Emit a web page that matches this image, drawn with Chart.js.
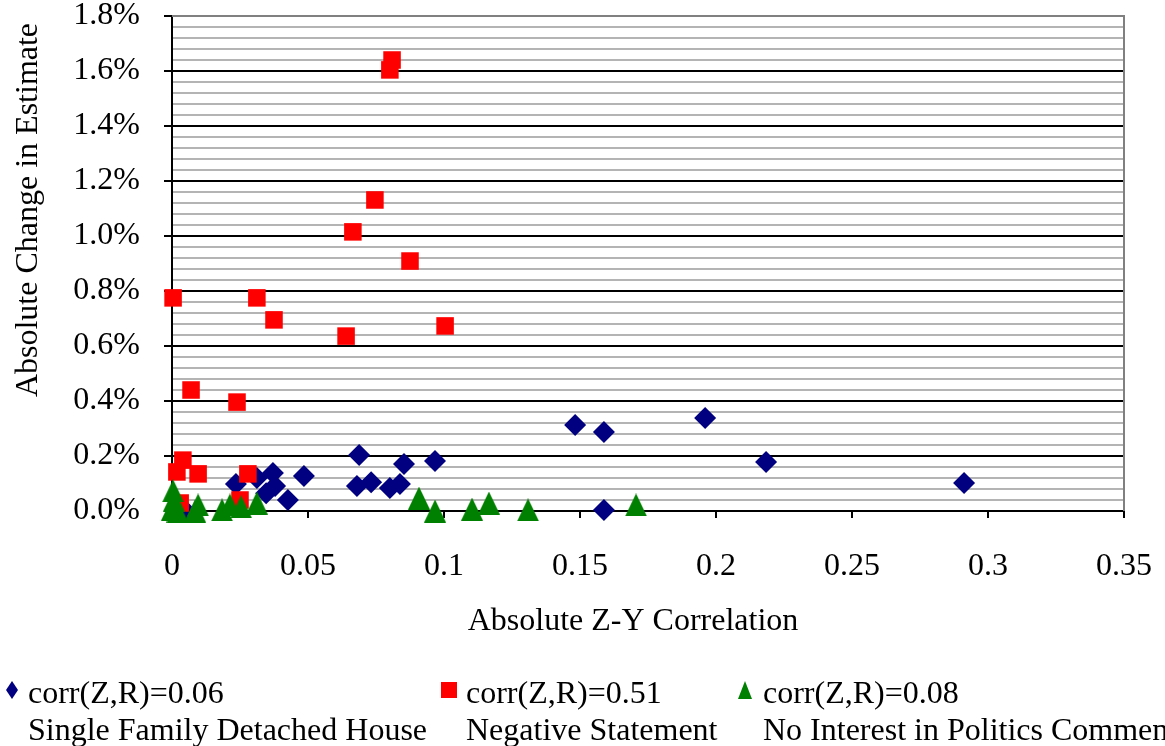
<!DOCTYPE html>
<html>
<head>
<meta charset="utf-8">
<script src="https://cdn.jsdelivr.net/npm/chart.js@4.4.0/dist/chart.umd.min.js"></script>
<style>
  html, body { margin: 0; padding: 0; background: #fff; }
  #wrap { width: 1165px; height: 746px; position: relative; }
</style>
</head>
<body>
<div id="wrap"><canvas id="chart"></canvas></div>
<script>
// series names and legend lines
const seriesNames = ['Single Family Detached House', 'Negative Statement', 'No Interest in Politics Comment'];
const corrLabels = ['corr(Z,R)=0.06', 'corr(Z,R)=0.51', 'corr(Z,R)=0.08'];

// x = absolute Z-Y correlation, y = absolute change in estimate (%)
const houseX = [0.005, 0.0235, 0.0312, 0.0346, 0.0371, 0.0379, 0.0426, 0.0485, 0.0688, 0.068, 0.0732, 0.0801, 0.0838, 0.0853, 0.0967, 0.1482, 0.1588, 0.1588, 0.196, 0.2184, 0.2912];
const houseY = [0.0, 0.098, 0.120, 0.065, 0.138, 0.091, 0.040, 0.127, 0.204, 0.091, 0.105, 0.084, 0.098, 0.171, 0.182, 0.313, 0.287, 0.004, 0.338, 0.178, 0.102];

const negX = [0.0809, 0.0801, 0.0746, 0.0665, 0.0875, 0.0004, 0.0312, 0.0375, 0.064, 0.1004, 0.007, 0.0239, 0.004, 0.0018, 0.0096, 0.0279, 0.003, 0.025];
const negY = [1.640, 1.604, 1.131, 1.015, 0.909, 0.775, 0.775, 0.695, 0.636, 0.673, 0.440, 0.396, 0.185, 0.142, 0.135, 0.135, 0.029, 0.040];

const polX = [0.0004, 0.0007, 0.0, 0.002, 0.0096, 0.0085, 0.0184, 0.0213, 0.0254, 0.0312, 0.0908, 0.0967, 0.1103, 0.1165, 0.1309, 0.1706];
const polY = [0.073, 0.040, 0.007, 0.0, 0.022, 0.0, 0.004, 0.022, 0.015, 0.029, 0.047, 0.0, 0.007, 0.029, 0.004, 0.022];

const xTicks = [0, 0.05, 0.1, 0.15, 0.2, 0.25, 0.3, 0.35];
const yMax = 1.8;

const colors = ['#000080', '#ff0000', '#008000'];
const FONT = "'Liberation Serif', 'Times New Roman', serif";

function toPoints(xs, ys) {
  return xs.map((x, i) => ({ x: x, y: ys[i] }));
}

// Excel-style triangle marker, centred on its box
function makeTriangle(w, h, color) {
  const c = document.createElement('canvas');
  c.width = w; c.height = h;
  const g = c.getContext('2d');
  g.fillStyle = color;
  g.beginPath();
  g.moveTo(w / 2, 0);
  g.lineTo(w, h);
  g.lineTo(0, h);
  g.closePath();
  g.fill();
  return c;
}
const triMarker = makeTriangle(22, 23, colors[2]);

const isMajor = v => Math.round(v * 25) % 5 === 0;

const extras = {
  id: 'extras',
  beforeDatasetsDraw(chart) {
    const { ctx, chartArea: a } = chart;
    ctx.save();
    ctx.strokeStyle = '#808080';
    ctx.lineWidth = 2;
    ctx.beginPath();
    ctx.moveTo(a.left, a.top);
    ctx.lineTo(a.right, a.top);
    ctx.lineTo(a.right, a.bottom);
    ctx.stroke();
    ctx.restore();
  },
  afterDraw(chart) {
    const { ctx } = chart;
    ctx.save();
    ctx.fillStyle = '#000';
    ctx.font = '32px ' + FONT;

    // axis titles
    ctx.textAlign = 'center';
    ctx.textBaseline = 'alphabetic';
    ctx.fillText('Absolute Z-Y Correlation', 633, 630);
    ctx.save();
    ctx.translate(37, 210);
    ctx.rotate(-Math.PI / 2);
    ctx.fillText('Absolute Change in Estimate', 0, 0);
    ctx.restore();

    // legend
    const markX = [12, 449, 745];
    const textX = [28, 466, 763];
    ctx.textAlign = 'left';
    for (let i = 0; i < 3; i++) {
      ctx.fillStyle = colors[i];
      const mx = markX[i], my = 690;
      ctx.beginPath();
      if (i === 0) {
        ctx.moveTo(mx, my - 9); ctx.lineTo(mx + 6, my); ctx.lineTo(mx, my + 9); ctx.lineTo(mx - 6, my);
      } else if (i === 1) {
        ctx.rect(mx - 8, my - 8, 16, 16);
      } else {
        ctx.moveTo(mx, my - 9); ctx.lineTo(mx + 7, my + 9); ctx.lineTo(mx - 7, my + 9);
      }
      ctx.closePath();
      ctx.fill();
      ctx.fillStyle = '#000';
      ctx.fillText(corrLabels[i], textX[i], 703);
      ctx.fillText(seriesNames[i], textX[i], 740);
    }
    ctx.restore();
  }
};

Chart.defaults.font.family = FONT;
Chart.defaults.font.size = 32;
Chart.defaults.color = '#000';

new Chart(document.getElementById('chart'), {
  type: 'scatter',
  data: {
    datasets: [
      {
        label: seriesNames[0], data: toPoints(houseX, houseY),
        pointStyle: 'rectRot', pointRadius: 11, backgroundColor: colors[0], borderWidth: 0,
        order: 2, clip: false
      },
      {
        label: seriesNames[1], data: toPoints(negX, negY),
        pointStyle: 'rect', pointRadius: 12.4, backgroundColor: colors[1], borderWidth: 0,
        order: 1, clip: false
      },
      {
        label: seriesNames[2], data: toPoints(polX, polY),
        pointStyle: triMarker, pointRadius: 11, backgroundColor: colors[2], borderWidth: 0,
        order: 0, clip: false
      }
    ]
  },
  options: {
    responsive: true,
    maintainAspectRatio: false,
    animation: false,
    events: [],
    layout: { padding: { left: 0, right: 41, top: 16, bottom: 145 } },
    plugins: { legend: { display: false }, tooltip: { enabled: false } },
    scales: {
      x: {
        type: 'linear', min: 0, max: 0.35,
        afterBuildTicks: s => { s.ticks = xTicks.map(v => ({ value: v })); },
        afterFit: s => { s.height = 90; s.paddingLeft = 0; s.paddingRight = 0; },
        ticks: { padding: 29, maxRotation: 0, autoSkip: false, callback: v => String(+v.toFixed(2)) },
        grid: { drawOnChartArea: false, drawTicks: true, tickLength: 7, tickColor: '#000', lineWidth: 2 },
        border: { color: '#000', width: 2 }
      },
      y: {
        type: 'linear', min: 0, max: yMax,
        ticks: {
          stepSize: 0.04, autoSkip: false, padding: 24,
          callback: v => isMajor(v) ? v.toFixed(1) + '%' : ''
        },
        afterFit: s => { s.width = 172; s.paddingTop = 0; s.paddingBottom = 0; },
        grid: {
          lineWidth: 2,
          tickLength: 8,
          color: c => {
            const k = Math.round(c.tick.value * 25);
            if (k === 45) return '#808080';
            return k % 5 === 0 ? '#000' : '#b4b4b4';
          },
          tickColor: c => isMajor(c.tick.value) ? '#000' : 'rgba(0,0,0,0)'
        },
        border: { color: '#000', width: 2 }
      }
    }
  },
  plugins: [extras]
});
</script>
</body>
</html>
